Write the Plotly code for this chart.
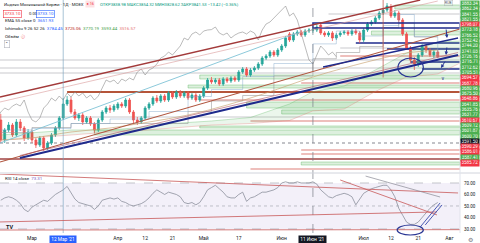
import plotly.graph_objects as go

# ---------------- DATA ----------------
# bar index: 0 = 1 Mar 2021 (trading days)
bar_idx = list(range(-8, 105))

opens = [3480, 3400, 3440, 3460, 3420, 3472, 3448, 3408,
         3432, 3400, 3380, 3408, 3368, 3388, 3420, 3448, 3488, 3544,
         3560, 3512, 3488, 3500, 3472, 3488, 3464, 3440, 3480, 3512,
         3528, 3520, 3528, 3544, 3536, 3560, 3512, 3480, 3472, 3488,
         3528, 3544, 3568, 3556, 3576, 3560, 3588, 3572, 3592, 3576,
         3588, 3568, 3580, 3560, 3576, 3608, 3640, 3632, 3640, 3624,
         3644, 3636, 3648, 3640, 3672, 3684, 3660, 3680, 3688, 3704,
         3728, 3736, 3752, 3740, 3760, 3776, 3824, 3800, 3824, 3832,
         3820, 3836, 3838.98, 3840, 3860, 3828, 3820, 3828, 3808, 3820,
         3828, 3832, 3824, 3836, 3828, 3800, 3840, 3864, 3872, 3888,
         3908, 3920, 3932, 3896, 3908, 3880, 3824, 3768, 3720, 3704,
         3740, 3776, 3760, 3740, 3752]
closes = [3400, 3440, 3460, 3420, 3472, 3448, 3408, 3432,
          3400, 3380, 3408, 3368, 3388, 3420, 3448, 3488, 3544, 3560,
          3512, 3488, 3500, 3472, 3488, 3464, 3440, 3480, 3512, 3528,
          3520, 3536, 3544, 3536, 3560, 3512, 3480, 3472, 3488, 3528,
          3544, 3568, 3556, 3576, 3560, 3588, 3572, 3592, 3576, 3588,
          3568, 3580, 3560, 3576, 3608, 3640, 3632, 3640, 3624, 3644,
          3636, 3648, 3640, 3672, 3684, 3660, 3680, 3688, 3704, 3728,
          3736, 3752, 3740, 3760, 3776, 3808, 3800, 3824, 3832, 3820,
          3836, 3840, 3841.53, 3852, 3828, 3820, 3828, 3808, 3820, 3828,
          3832, 3824, 3836, 3828, 3800, 3840, 3864, 3872, 3888, 3908,
          3920, 3936, 3896, 3908, 3880, 3824, 3768, 3720, 3704, 3740,
          3776, 3760, 3740, 3752, 3733.10]
highs = [3504, 3448, 3472, 3468, 3484, 3484, 3456, 3444,
         3440, 3408, 3416, 3416, 3396, 3428, 3456, 3496, 3568, 3576,
         3572, 3524, 3508, 3508, 3496, 3496, 3472, 3488, 3520, 3536,
         3540, 3544, 3552, 3552, 3568, 3568, 3520, 3492, 3496, 3536,
         3552, 3576, 3580, 3584, 3584, 3596, 3596, 3600, 3600, 3596,
         3596, 3588, 3588, 3584, 3616, 3648, 3652, 3648, 3648, 3652,
         3652, 3656, 3656, 3680, 3692, 3692, 3688, 3696, 3712, 3736,
         3744, 3760, 3760, 3768, 3784, 3816, 3832, 3832, 3840, 3840,
         3844, 3848, 3854.32, 3864, 3868, 3836, 3836, 3836, 3828, 3836,
         3840, 3840, 3844, 3844, 3836, 3848, 3872, 3880, 3896, 3916,
         3928, 3948, 3944, 3920, 3916, 3888, 3832, 3776, 3732, 3748,
         3784, 3784, 3768, 3760, 3760]
lows = [3388, 3388, 3432, 3412, 3412, 3436, 3396, 3400,
        3388, 3368, 3372, 3356, 3360, 3380, 3412, 3440, 3480, 3536,
        3504, 3480, 3476, 3460, 3464, 3456, 3428, 3432, 3472, 3504,
        3508, 3512, 3520, 3528, 3528, 3504, 3468, 3460, 3464, 3480,
        3520, 3536, 3548, 3548, 3552, 3552, 3564, 3564, 3568, 3568,
        3560, 3560, 3552, 3552, 3568, 3600, 3624, 3624, 3616, 3616,
        3628, 3628, 3632, 3632, 3664, 3652, 3652, 3672, 3680, 3696,
        3720, 3728, 3732, 3732, 3752, 3768, 3792, 3792, 3816, 3812,
        3812, 3828, 3828.62, 3832, 3820, 3812, 3812, 3796, 3800, 3812,
        3820, 3816, 3816, 3820, 3788, 3792, 3832, 3856, 3864, 3880,
        3900, 3912, 3888, 3888, 3868, 3816, 3760, 3708, 3680, 3692,
        3732, 3748, 3732, 3728, 3728]

rsi_vals = [55, 57, 58, 57, 55, 52, 47, 45,
            49, 51, 53, 55, 54, 57, 60, 62, 64, 67,
            62, 56, 53, 52, 51, 50, 47, 50, 55, 56,
            57, 56, 57, 54, 53, 51, 50, 51, 52, 54,
            57, 61, 64, 62, 60, 62, 61, 60, 58, 53,
            52, 53, 51, 53, 58, 64, 66, 68, 65, 62,
            58, 57, 57, 60, 62, 54, 57, 58, 60, 62,
            62, 63, 64, 66, 70, 71, 70, 70, 71, 70,
            70, 70, 71, 69, 64, 61, 58, 57, 59, 60,
            61, 60, 58, 51, 56, 61, 63, 65, 66, 67,
            68, 68, 64, 58, 48, 42, 36, 34, 34, 36,
            40, 44, 48, 51, 53]

# Ichimoku (read at sparse bars)
cloud_idx = [-8, 0, 10, 20, 26, 36, 46, 56, 66, 72, 80, 88, 96, 104, 110]
span_a = [3420, 3428, 3440, 3440, 3448, 3466, 3476, 3490, 3544, 3593.44, 3616, 3680, 3748, 3792, 3796]
span_b = [3400, 3408, 3420, 3432, 3436, 3448, 3460, 3466, 3478, 3516.57, 3524, 3594, 3652, 3664, 3710]
line_idx = [-8, 0, 10, 20, 30, 40, 46, 54, 62, 72, 78, 84, 90, 94, 98, 104]
tenkan = [3440, 3446, 3466, 3484, 3514, 3574, 3602, 3654, 3706, 3784.45, 3836, 3816, 3858, 3902, 3814, 3732]
kijun = [3430, 3450, 3466, 3466, 3466, 3514, 3556, 3578, 3656, 3725.06, 3750, 3774, 3850, 3868, 3812, 3812]
ema_idx = [-8, 0, 10, 20, 30, 40, 50, 60, 72, 80, 90, 96, 104]
ema55 = [3400, 3408, 3432, 3448, 3472, 3500, 3540, 3588, 3651.93, 3688, 3728, 3748, 3760]

# x-axis ticks
tick_idx = [0, 22, 29, 36, 44, 53, 64, 85, 92, 99, 107]
tick_text = ["Мар", "Апр", "12", "21", "Май", "17", "Июн", "Июл", "12", "21", "Авг"]

# horizontal drawings: price level, first bar
gray_levels = [3720, 3688, 3668, 3492, 3904, 3768]
gray_starts = [-9, -9, -9, -9, 76, 79]
red_levels = [3592, 3628, 3560, 3476, 3736, 3360, 3344, 3284, 3324]
red_starts = [9, 69, 43, 56, 79, 69, 69, 56, -9]
navy_levels = [3788, 3764, 3712, 3684]
navy_starts = [83, 91, 97, 100]
green_band_lo = [3924, 3820, 3644, 3608, 3528, 3504, 3448, 3420, 3300]
green_band_hi = [3940, 3836, 3660, 3620, 3552, 3520, 3456, 3440, 3312]
green_band_start = [93, 87, 43, 40, 55, 64, 43, 16, 69]
blue_box = [72, 3848, 3868]

# trend lines: (bar0, price0, bar1, price1)
upper_channel = [-8.2, 3572, 99.5, 3960]
upper_channel2 = [-8.2, 3552, 104, 3956]
lower_channel = [-8.2, 3312, 109.7, 3844]
teal_line = [-8.2, 3388, 68.7, 3832]
navy_a = [-3.1, 3328, 109.2, 3740]
navy_b = [74.6, 3692, 109.2, 3808]
rsi_lines = [[-8.2, 77.8, 109.2, 61.3],
             [-8.2, 36.1, 103.8, 44.8],
             [-8.2, 29.1, 109.7, 29.4],
             [79, 72.6, 103.8, 42.2]]
rsi_gray_line = [85.5, 76.0, 104.6, 57.8]

# right-axis labels
axis_labels = ["3883.34", "3862.34", "3841.55", "3821.55", "3798.07", "3773.18", "3766.52",
               "3752.42", "3744.20", "3741.03", "3726.16", "3716.71", "3712.62", "3705.51",
               "3694.57", "3687.78", "3680.96", "3675.50", "3648.86", "3641.85", "3635.76",
               "3631.77", "3610.67", "3609.12", "3601.87", "3600.70", "3591.50", "3590.29",
               "3586.01", "3587.41", "3585.72"]
axis_kinds = ["g", "g", "g", "g", "r", "g", "g", "g", "g", "g", "g", "g", "g", "g",
              "r", "r", "g", "g", "r", "g", "g", "g", "r", "g", "g", "g", "d", "r",
              "r", "g", "r"]
crosshair_price = 3388
crosshair_bars = [8, 72]
crosshair_dates = ["12 Мар '21", "11 Июн '21"]

# ---------------- LAYOUT HELPERS ----------------
W, H = 480, 243
BM = 10
PH = H - BM
PLOT_W = 460
X0, X1 = -8.2, 109.7
MAIN_BOTTOM_PX = 172
RSI_TOP_PX = 174


def pxx(x):
    return x / W


def pyy(y):
    return 1 - y / PH


FONT = "Roboto"
GREEN = "#26a69a"
RED = "#ef5350"
NAVY = "#1f2a8c"

fig = go.Figure()

# Ichimoku cloud
fig.add_trace(go.Scatter(x=cloud_idx, y=span_b, mode="lines",
                         line=dict(color="rgba(229,115,115,0.55)", width=0.6),
                         hoverinfo="skip", showlegend=False))
fig.add_trace(go.Scatter(x=cloud_idx, y=span_a, mode="lines",
                         line=dict(color="rgba(102,187,106,0.6)", width=0.6),
                         fill="tonexty", fillcolor="rgba(76,175,80,0.11)",
                         hoverinfo="skip", showlegend=False))
fig.add_trace(go.Scatter(x=line_idx, y=kijun, mode="lines", line_shape="hv",
                         line=dict(color="rgba(150,150,150,0.8)", width=0.7),
                         hoverinfo="skip", showlegend=False))
fig.add_trace(go.Scatter(x=line_idx, y=tenkan, mode="lines", line_shape="hv",
                         line=dict(color="rgba(120,160,200,0.7)", width=0.6),
                         hoverinfo="skip", showlegend=False))
chikou_x = [b - 26 for b in bar_idx]
fig.add_trace(go.Scatter(x=chikou_x, y=closes, mode="lines",
                         line=dict(color="rgba(140,140,140,0.85)", width=0.7),
                         hoverinfo="skip", showlegend=False))
fig.add_trace(go.Scatter(x=ema_idx, y=ema55, mode="lines", line_shape="spline",
                         line=dict(color="rgba(200,160,110,0.8)", width=0.8),
                         hoverinfo="skip", showlegend=False))

fig.add_trace(go.Candlestick(
    x=bar_idx, open=opens, high=highs, low=lows, close=closes,
    increasing=dict(line=dict(color=GREEN, width=0.8), fillcolor=GREEN),
    decreasing=dict(line=dict(color=RED, width=0.8), fillcolor=RED),
    whiskerwidth=0, showlegend=False, xaxis="x", yaxis="y"))

# RSI
fig.add_trace(go.Scatter(x=bar_idx, y=rsi_vals, mode="lines",
                         line=dict(color="#8c8f9c", width=0.8),
                         xaxis="x", yaxis="y2", hoverinfo="skip", showlegend=False))

shapes = []


def hline(price, start, color, width=1.0, dash="solid", yref="y"):
    shapes.append(dict(type="line", xref="x", yref=yref, x0=max(start, X0), x1=X1,
                       y0=price, y1=price, line=dict(color=color, width=width, dash=dash),
                       layer="below"))


# green bands
for lo, hi, st in zip(green_band_lo, green_band_hi, green_band_start):
    shapes.append(dict(type="rect", xref="x", yref="y", x0=max(st, X0), x1=X1, y0=lo, y1=hi,
                       fillcolor="rgba(102,187,106,0.22)",
                       line=dict(color="rgba(76,175,80,0.6)", width=0.6), layer="below"))
for lv, st in zip(gray_levels, gray_starts):
    hline(lv, st, "rgba(170,170,175,0.9)", 0.7)
for i, (lv, st) in enumerate(zip(red_levels, red_starts)):
    if i == 0:
        hline(lv, st, "#b5553a", 1.8)
    elif lv == 3324:
        hline(lv, st, "#a14545", 1.4)
    else:
        hline(lv, st, "rgba(214,96,90,0.9)", 0.9)
for lv, st in zip(navy_levels, navy_starts):
    hline(lv, st, NAVY, 1.4)
shapes.append(dict(type="rect", xref="x", yref="y", x0=blue_box[0], x1=X1,
                   y0=blue_box[1], y1=blue_box[2], line=dict(color=NAVY, width=1.4),
                   fillcolor="rgba(0,0,0,0)"))


def seg(c, color, width, yref="y", dash="solid"):
    shapes.append(dict(type="line", xref="x", yref=yref, x0=c[0], y0=c[1], x1=c[2], y1=c[3],
                       line=dict(color=color, width=width, dash=dash)))


seg(upper_channel, "#a33a3a", 1.3)
seg(upper_channel2, "rgba(220,160,160,0.8)", 0.8)
seg(lower_channel, "#b0563f", 1.1)
seg(teal_line, "#7fc3d6", 0.9)
seg(navy_a, NAVY, 2.0)
seg([navy_a[0], navy_a[1] + 10, navy_a[2], navy_a[3] + 10], "rgba(180,90,110,0.8)", 0.8)
seg(navy_b, NAVY, 1.3)
# vertical brown line near the top
shapes.append(dict(type="line", xref="x", yref="y", x0=90, x1=90, y0=3650, y1=3960,
                   line=dict(color="rgba(190,80,70,0.8)", width=0.9)))

# crosshair horizontal
hline(crosshair_price, X0, "#50535e", 0.7, "dot")

# crosshair verticals
shapes.append(dict(type="line", xref="x", yref="paper", x0=crosshair_bars[0], x1=crosshair_bars[0],
                   y0=0, y1=1, line=dict(color="rgba(120,160,190,0.8)", width=0.8)))
shapes.append(dict(type="line", xref="x", yref="paper", x0=crosshair_bars[1], x1=crosshair_bars[1],
                   y0=0, y1=1, line=dict(color="#787b86", width=0.7, dash="dash")))

# RSI band and levels
shapes.append(dict(type="rect", xref="x", yref="y2", x0=X0, x1=X1, y0=30, y1=70,
                   fillcolor="rgba(126,87,194,0.09)", line=dict(width=0), layer="below"))
for lv, dsh in [(70, "dash"), (50, "dot"), (30, "dash")]:
    hline(lv, X0, "rgba(120,123,134,0.7)", 0.6, dsh, yref="y2")
for c in rsi_lines:
    seg(c, "rgba(200,90,90,0.9)", 0.9, yref="y2")
seg(rsi_gray_line, "rgba(140,140,150,0.9)", 0.8, yref="y2")

# hand-drawn marks
shapes.append(dict(type="circle", xref="x", yref="y", x0=93.8, x1=100.3, y0=3652, y1=3728,
                   line=dict(color="#283593", width=1.2)))
shapes.append(dict(type="circle", xref="x", yref="paper", x0=93.6, x1=100.3,
                   y0=pyy(235), y1=pyy(225), line=dict(color="#283593", width=1.2)))
seg([99.5, 31.7, 104.6, 52.6], "#3949ab", 0.9, yref="y2")
seg([100.8, 33.5, 105.1, 50.9], "#3949ab", 0.9, yref="y2")

# pane separator & price axis border
shapes.append(dict(type="line", xref="paper", yref="paper", x0=0, x1=1,
                   y0=pyy(173), y1=pyy(173), line=dict(color="#d1d4dc", width=1)))
shapes.append(dict(type="line", xref="paper", yref="paper", x0=pxx(PLOT_W), x1=pxx(PLOT_W),
                   y0=0, y1=1, line=dict(color="#e0e3eb", width=1)))

annotations = []


def txt(x, y, s, size=4.6, color="#131722", anchor="left", **kw):
    annotations.append(dict(x=pxx(x), y=pyy(y), xref="paper", yref="paper", text=s,
                            showarrow=False, xanchor=anchor, yanchor="middle",
                            font=dict(family=FONT, size=size, color=color), **kw))


# header
txt(2, 4, "Индекс Московской Биржи · 1Д · MOEX", 4.3)
txt(85, 4, "● 16", 3.8, "#f23645", bgcolor="rgba(242,54,69,0.15)", borderpad=0.4)
txt(98, 4, "ОТКР3838.98 МАКС3854.32 МИН3828.62 ЗАКР3841.53 −13.42 (−0.36%)", 4.2, "#089981")
txt(3, 14, "3733.10", 4.4, "#f23645", bordercolor="#f23645", borderwidth=0.6, borderpad=0.8)
txt(27, 14, "0.00", 4.2, "#131722")
txt(36, 14, "3733.10", 4.4, "#2962ff", bordercolor="#2962ff", borderwidth=0.6, borderpad=0.8)
txt(3, 20.5, "EMA 55 close 0  <span style='color:#2962ff'>3651.93</span>", 4.4)
txt(3, 28.5, "Ichimoku 9 26 52 26  <span style='color:#2962ff'>3784.45</span>  "
    "<span style='color:#b71c1c'>3725.06</span>  <span style='color:#43a047'>3770.19</span>  "
    "<span style='color:#43a047'>3593.44</span>  <span style='color:#e57373'>3516.57</span>", 4.4)
txt(3, 36, "Объём  <span style='color:#f23645'>ⓘ</span>", 4.4)
txt(4, 44, "⌃", 4.4, "#131722", bordercolor="#b2b5be", borderwidth=0.6, borderpad=0.8)
txt(3, 178.5, "RSI 14 close  <span style='color:#7e57c2'>73.31</span>", 4.4)
txt(4, 227, "<b>TV</b>", 5.5, "#131722")
txt(444, 3, "RUB", 3.6, "#50535e", bordercolor="#b2b5be", borderwidth=0.5, borderpad=0.3)

# right axis price labels (stacked)
col = {"g": "#4caf50", "r": "#f23645", "d": "#131722"}
for i, (lab, k) in enumerate(zip(axis_labels, axis_kinds)):
    annotations.append(dict(x=1.0, y=pyy(4 + i * 5.3), xref="paper", yref="paper",
                            text=lab, showarrow=False, xanchor="right", yanchor="middle",
                            font=dict(family=FONT, size=4.5, color="white"),
                            bgcolor=col[k], borderpad=0.4, width=17))

# crosshair date labels
for b, d, bg in zip(crosshair_bars, crosshair_dates, ["#2962ff", "#131722"]):
    annotations.append(dict(x=b, y=0, xref="x", yref="paper", text=d, showarrow=False,
                            xanchor="center", yanchor="top", yshift=-1.5,
                            font=dict(family=FONT, size=4.8, color="white"),
                            bgcolor=bg, borderpad=1.2))

# hand-drawn arrows
for hx, hy, ax, ay in [(447, 38, -1, -10), (446, 55, 1, -9), (441, 68, 5, -8)]:
    annotations.append(dict(x=pxx(hx), y=pyy(hy), xref="paper", yref="paper", text="",
                            showarrow=True, arrowhead=2, arrowsize=0.7, arrowwidth=1,
                            arrowcolor="#283593", ax=ax, ay=ay))
txt(443, 78, "∨", 5, "#283593", anchor="center")
txt(470, 239, "⚙", 6, "#787b86", anchor="center")

fig.update_layout(
    width=W, height=H,
    margin=dict(l=0, r=0, t=0, b=BM),
    paper_bgcolor="white", plot_bgcolor="white",
    showlegend=False,
    font=dict(family=FONT, size=5, color="#131722"),
    xaxis=dict(domain=[0, PLOT_W / W], range=[X0, X1], anchor="y2",
               tickvals=tick_idx, ticktext=tick_text, showgrid=False, zeroline=False,
               ticks="", tickfont=dict(size=5, color="#131722"), rangeslider=dict(visible=False),
               showline=False, ticklabelstandoff=1),
    yaxis=dict(domain=[1 - MAIN_BOTTOM_PX / PH, 1], range=[3272, 3960], anchor="x",
               showticklabels=False, showgrid=False, zeroline=False),
    yaxis2=dict(domain=[0, 1 - RSI_TOP_PX / PH], range=[26.5, 77.8], anchor="x", side="right",
                tickvals=[30, 40, 50, 60, 70], ticktext=["30.00", "40.00", "50.00", "60.00", "70.00"],
                tickfont=dict(size=4.5, color="#131722"), showgrid=False, zeroline=False,
                ticks="", ticklabelstandoff=3),
    shapes=shapes,
    annotations=annotations,
)

fig.write_html("out.html")
